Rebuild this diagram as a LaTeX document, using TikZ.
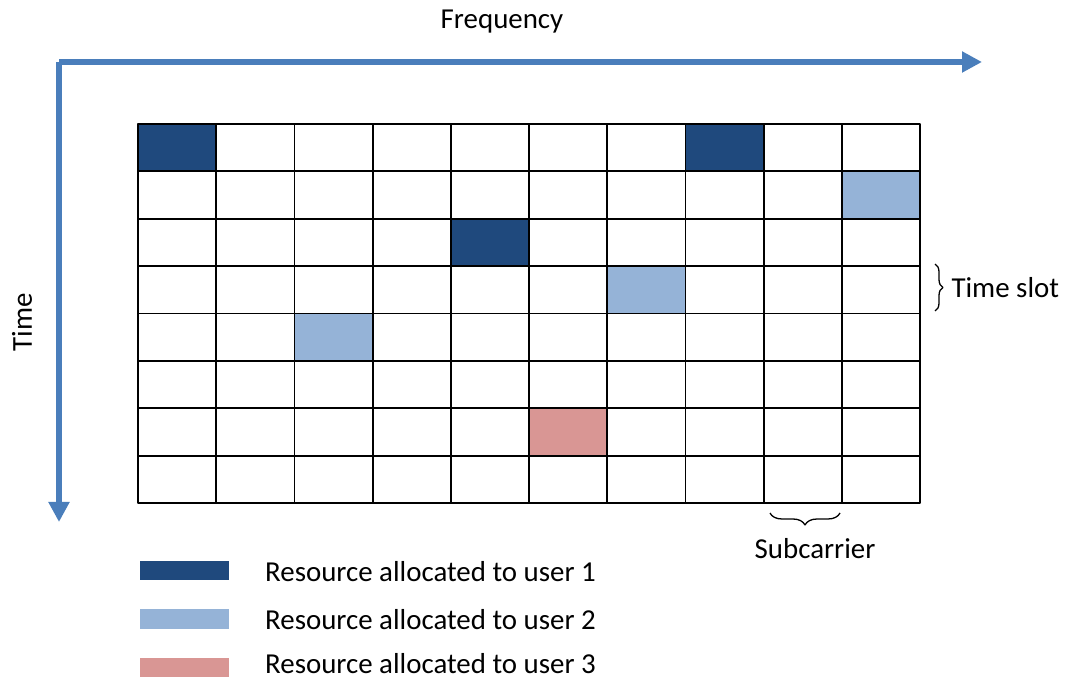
\documentclass[tikz,border=0pt]{standalone}
\usepackage{fontspec}
\setmainfont{Carlito}
\usetikzlibrary{arrows.meta,decorations.pathreplacing}
\definecolor{axisblue}{HTML}{4A7EBB}
\definecolor{userone}{HTML}{1F497D}
\definecolor{usertwo}{HTML}{95B3D7}
\definecolor{userthree}{HTML}{D99694}
\begin{document}
\begin{tikzpicture}[>=latex,line join=bevel,
  axis/.style={axisblue,line width=6bp,-{Triangle[length=20bp,width=20bp]}},
  gridline/.style={black,line width=1.8bp},
  brace/.style={black,line width=1.3bp,decorate},
  swatch/.style={draw=none,minimum width=89bp,minimum height=19.5bp,inner sep=0pt},
  txt/.style={draw=none,font=\fontsize{29}{34}\selectfont}]
\useasboundingbox (0bp,0bp) rectangle (1065bp,680bp);
%%
\coordinate (origin) at (59bp,618bp);
  \coordinate (freq_end) at (982bp,618bp);
  \coordinate (time_end) at (59bp,158bp);
  \node (freq_label) at (502bp,658bp) [txt] {Frequency};
  \node (time_label) at (22bp,358bp) [txt,rotate=90] {Time};
  \draw [axis] (origin) -- (freq_end);
  \draw [axis] (origin) -- (time_end);
%%
\fill [userone] (138bp,508.625bp) rectangle (216.2bp,556bp);
  \fill [userone] (685.4bp,508.625bp) rectangle (763.6bp,556bp);
  \fill [userone] (450.8bp,413.875bp) rectangle (529bp,461.25bp);
  \fill [usertwo] (841.8bp,461.25bp) rectangle (920bp,508.625bp);
  \fill [usertwo] (607.2bp,366.5bp) rectangle (685.4bp,413.875bp);
  \fill [usertwo] (294.4bp,319.125bp) rectangle (372.6bp,366.5bp);
  \fill [userthree] (529bp,224.375bp) rectangle (607.2bp,271.75bp);
  \draw [gridline,shift={(138bp,177bp)}] (0bp,0bp) grid [xstep=78.2bp,ystep=47.375bp] (782.1bp,379.1bp);
  \draw [gridline] (138bp,177bp) rectangle (920bp,556bp);
%%
\coordinate (slot_top) at (935bp,416bp);
  \coordinate (slot_bot) at (935bp,369bp);
  \draw [brace,decoration={brace,amplitude=8bp}] (slot_top) -- (slot_bot);
  \node (slot_label) at (948bp,392bp) [txt,anchor=west] {Time slot};
  \coordinate (sub_right) at (840bp,167bp);
  \coordinate (sub_left) at (770bp,167bp);
  \draw [brace,decoration={brace,amplitude=12bp}] (sub_right) -- (sub_left);
  \node (sub_label) at (815bp,131bp) [txt] {Subcarrier};
%%
\node (key_1) at (184.5bp,109.5bp) [swatch,fill=userone] {};
  \node (key_2) at (184.5bp,61bp) [swatch,fill=usertwo] {};
  \node (key_3) at (184.5bp,12.5bp) [swatch,fill=userthree] {};
  \node (label_1) at (265bp,98bp) [txt,anchor=base west,inner sep=0pt] {Resource allocated to user 1};
  \node (label_2) at (265bp,50bp) [txt,anchor=base west,inner sep=0pt] {Resource allocated to user 2};
  \node (label_3) at (265bp,6.5bp) [txt,anchor=base west,inner sep=0pt] {Resource allocated to user 3};
%
\end{tikzpicture}
\end{document}
